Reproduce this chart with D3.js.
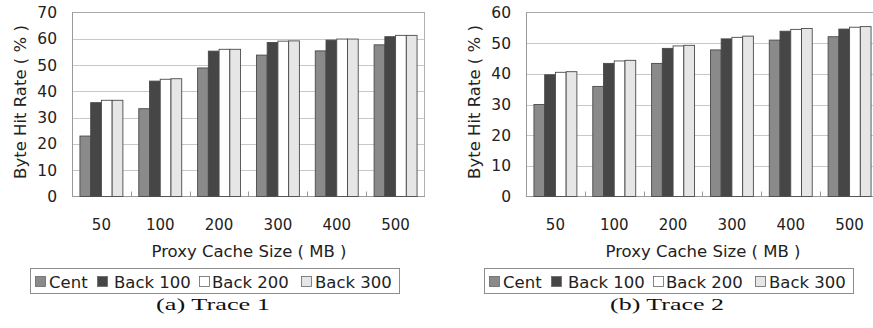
<!DOCTYPE html>
<html>
<head>
<meta charset="utf-8">
<script src="https://cdn.jsdelivr.net/npm/d3@7"></script>
<style>
  body { margin: 0; background: #fff; }
  svg { display: block; }
</style>
</head>
<body>
<div id="chart"></div>
<script>
// cache sizes (MB) and schemes
var sizes = ["50", "100", "200", "300", "400", "500"];
var series = ["Cent", "Back 100", "Back 200", "Back 300"];
var colors = ["#8a8a8a", "#464646", "#ffffff", "#e6e6e6"];

// Trace 1 byte hit rate (%)
var t1Cent    = [23.0, 33.4, 48.9, 53.8, 55.4, 57.7];
var t1Back100 = [35.7, 43.9, 55.3, 58.6, 59.5, 60.8];
var t1Back200 = [36.6, 44.6, 56.0, 59.1, 59.9, 61.3];
var t1Back300 = [36.6, 44.8, 56.0, 59.2, 59.9, 61.3];
var t1Ticks = [0, 10, 20, 30, 40, 50, 60, 70];

// Trace 2 byte hit rate (%)
var t2Cent    = [30.0, 35.9, 43.4, 47.8, 51.0, 52.1];
var t2Back100 = [39.7, 43.4, 48.3, 51.4, 53.9, 54.6];
var t2Back200 = [40.5, 44.2, 49.1, 51.9, 54.5, 55.2];
var t2Back300 = [40.7, 44.4, 49.3, 52.3, 54.8, 55.4];
var t2Ticks = [0, 10, 20, 30, 40, 50, 60];

var svg = d3.select("#chart").append("svg")
  .attr("width", 873)
  .attr("height", 328);

var sans = "'DejaVu Sans', Verdana, sans-serif";

function drawChart(ox, rows, ticks, caption, legendX) {
  var g = svg.append("g").attr("transform", "translate(" + ox + ",0)");
  var w = 353, top = 12.5, bottom = 196.5;

  var x0 = d3.scaleBand().domain(sizes).range([0, w]).paddingInner(0.27).paddingOuter(0.135);
  var x1 = d3.scaleBand().domain(series).range([0, x0.bandwidth()]);
  var y = d3.scaleLinear().domain([0, d3.max(ticks)]).range([bottom, top]);

  // gridlines
  g.selectAll(".grid").data(ticks.slice(1, -1)).enter().append("line")
    .attr("x1", 0).attr("x2", w)
    .attr("y1", function(d) { return Math.round(y(d)) + 0.5; })
    .attr("y2", function(d) { return Math.round(y(d)) + 0.5; })
    .style("stroke", "#c8c8c8").style("stroke-width", 1);

  // frame
  g.append("line").attr("x1", 0).attr("x2", w).attr("y1", top).attr("y2", top)
    .style("stroke", "#a8a8a8").style("stroke-width", 1.2);
  g.append("line").attr("x1", w - 0.5).attr("x2", w - 0.5).attr("y1", top).attr("y2", bottom)
    .style("stroke", "#b0b0b0");
  g.append("line").attr("x1", 0.5).attr("x2", 0.5).attr("y1", top).attr("y2", bottom)
    .style("stroke", "#999");
  g.append("line").attr("x1", 0).attr("x2", w).attr("y1", bottom).attr("y2", bottom)
    .style("stroke", "#999").style("stroke-width", 1.2);

  // small ticks between groups
  g.selectAll(".sep").data(sizes.slice(1)).enter().append("line")
    .attr("x1", function(d) { return Math.round(x0(d) - x0.step() * 0.135) + 0.5; })
    .attr("x2", function(d) { return Math.round(x0(d) - x0.step() * 0.135) + 0.5; })
    .attr("y1", bottom).attr("y2", bottom - 5)
    .style("stroke", "#999");

  // bars
  var grp = g.selectAll(".grp").data(sizes).enter().append("g")
    .attr("transform", function(d) { return "translate(" + x0(d) + ",0)"; });
  grp.selectAll("rect")
    .data(function(d, i) { return rows.map(function(r, j) { return {s: series[j], v: r[i], c: colors[j]}; }); })
    .enter().append("rect")
    .attr("x", function(d) { return x1(d.s); })
    .attr("y", function(d) { return y(d.v); })
    .attr("width", x1.bandwidth())
    .attr("height", function(d) { return bottom - y(d.v); })
    .style("fill", function(d) { return d.c; })
    .style("stroke", "#4a4a4a")
    .style("stroke-width", 0.9);

  // y tick labels
  g.selectAll(".ylab").data(ticks).enter().append("text")
    .attr("x", -15).attr("y", function(d) { return y(d) + 5.5; })
    .style("text-anchor", "end")
    .style("font-family", sans).style("font-size", "15.5px").style("fill", "#222")
    .text(function(d) { return d; });

  // x tick labels
  g.selectAll(".xlab").data(sizes).enter().append("text")
    .attr("x", function(d) { return x0(d) + x0.bandwidth() / 2; })
    .attr("y", 230)
    .style("text-anchor", "middle")
    .style("font-family", sans).style("font-size", "15px").style("fill", "#222")
    .text(function(d) { return d; });

  g.append("text")
    .attr("x", 177).attr("y", 257)
    .style("text-anchor", "middle")
    .style("font-family", sans).style("font-size", "16.5px").style("fill", "#222")
    .text("Proxy Cache Size ( MB )");

  g.append("text")
    .attr("transform", "translate(-46,102) rotate(-90)")
    .style("text-anchor", "middle")
    .style("font-family", sans).style("font-size", "16.5px").style("fill", "#222")
    .text("Byte Hit Rate ( % )");

  // legend
  var lg = svg.append("g").attr("transform", "translate(" + legendX + ",268)");
  lg.append("rect").attr("x", 0.5).attr("y", 0.5).attr("width", 369).attr("height", 25)
    .style("fill", "#fff").style("stroke", "#8c8c8c");
  var markX = [5, 67, 169, 271];
  var textX = [19, 84, 182, 285];
  series.forEach(function(s, j) {
    lg.append("rect").attr("x", markX[j] + 0.5).attr("y", 8.5).attr("width", 10).attr("height", 10)
      .style("fill", colors[j]).style("stroke", "#666").style("stroke-width", 0.8);
    lg.append("text").attr("x", textX[j]).attr("y", 19.5)
      .style("font-family", sans).style("font-size", "16.5px").style("fill", "#222")
      .text(s);
  });

  svg.append("text")
    .attr("x", legendX + 183).attr("y", 310)
    .style("text-anchor", "middle")
    .style("font-family", "'Liberation Serif', serif")
    .style("font-size", "17.5px").style("fill", "#111")
    .attr("textLength", 114).attr("lengthAdjust", "spacingAndGlyphs")
    .text(caption);
}

drawChart(72, [t1Cent, t1Back100, t1Back200, t1Back300], t1Ticks, "(a) Trace 1", 30);
drawChart(526, [t2Cent, t2Back100, t2Back200, t2Back300], t2Ticks, "(b) Trace 2", 484);
</script>
</body>
</html>
